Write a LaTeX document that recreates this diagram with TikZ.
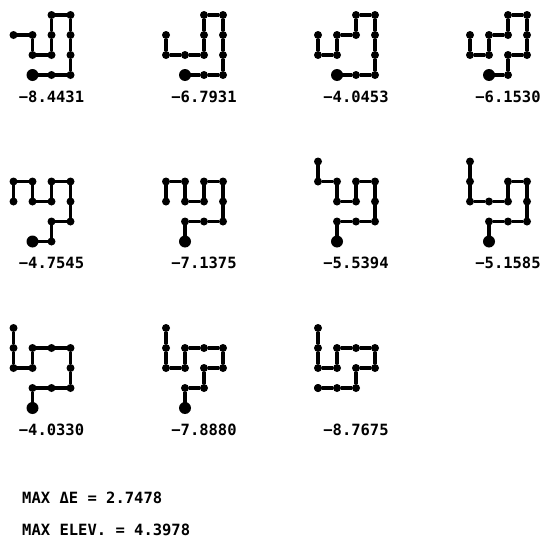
\documentclass[tikz,border=0pt]{standalone}
\usepackage{fontspec}
\newfontfamily\plotfont{DejaVu Sans Mono}
\usepackage{tikz}
\usetikzlibrary{calc}

% one folded chain: [end dot style], name, origin x, origin y, lattice steps, energy
\newcommand{\foldwalk}[6][endsite]{%
  \foreach \cx/\cy [count=\i] in {#5} {
    \node[site] (#2-\i) at ({#3+19*\cx}, {#4+20*\cy}) {};
  }
  \foreach \i [remember=\i as \j (initially 1)] in {2,...,12} {
    \draw[bond] (#2-\j) -- (#2-\i);
  }
  \node[#1] (#2-end) at (#2-12) {};
  \node[energy] (#2-lab) at ({#3+38}, {#4+87}) {#6};
}

\begin{document}
\begin{tikzpicture}[
  x=1pt,
  y=-1pt,
  bond/.style={draw=black, line width=3.2pt, shorten <=-0.5pt, shorten >=-0.5pt},
  site/.style={circle, fill=black, inner sep=0pt, minimum size=8pt},
  endsite/.style={circle, fill=black, inner sep=0pt, minimum size=12pt},
  energy/.style={font=\plotfont\bfseries\fontsize{15.5}{18}\selectfont, anchor=base},
  summary/.style={font=\plotfont\bfseries\fontsize{15.5}{18}\selectfont, anchor=base west, inner sep=0pt, text depth=0pt}
]
\useasboundingbox (0,0) rectangle (542,538);

% First row of conformations.
\foldwalk{sa}{13.5}{15}{0/1,1/1,1/2,2/2,2/1,2/0,3/0,3/1,3/2,3/3,2/3,1/3}{−8.4431}
\foldwalk{sb}{166}{15}{0/1,0/2,1/2,2/2,2/1,2/0,3/0,3/1,3/2,3/3,2/3,1/3}{−6.7931}
\foldwalk{sc}{318}{15}{0/1,0/2,1/2,1/1,2/1,2/0,3/0,3/1,3/2,3/3,2/3,1/3}{−4.0453}
\foldwalk{sd}{470}{15}{0/1,0/2,1/2,1/1,2/1,2/0,3/0,3/1,3/2,2/2,2/3,1/3}{−6.1530}

% Second row.
\foldwalk{se}{13.5}{181.5}{0/1,0/0,1/0,1/1,2/1,2/0,3/0,3/1,3/2,2/2,2/3,1/3}{−4.7545}
\foldwalk{sf}{166}{181.5}{0/1,0/0,1/0,1/1,2/1,2/0,3/0,3/1,3/2,2/2,1/2,1/3}{−7.1375}
\foldwalk{sg}{318}{181.5}{0/-1,0/0,1/0,1/1,2/1,2/0,3/0,3/1,3/2,2/2,1/2,1/3}{−5.5394}
\foldwalk{sh}{470}{181.5}{0/-1,0/0,0/1,1/1,2/1,2/0,3/0,3/1,3/2,2/2,1/2,1/3}{−5.1585}

% Third row.
\foldwalk{si}{13.5}{348}{0/-1,0/0,0/1,1/1,1/0,2/0,3/0,3/1,3/2,2/2,1/2,1/3}{−4.0330}
\foldwalk{sj}{166}{348}{0/-1,0/0,0/1,1/1,1/0,2/0,3/0,3/1,2/1,2/2,1/2,1/3}{−7.8880}
\foldwalk[site]{sk}{318}{348}{0/-1,0/0,0/1,1/1,1/0,2/0,3/0,3/1,2/1,2/2,1/2,0/2}{−8.7675}

% Summary lines.
\node[summary] (maxde) at (22,503) {MAX ΔE = 2.7478};
\node[summary] (maxelev) at (22,535.5) {MAX ELEV. = 4.3978};
\end{tikzpicture}
\end{document}
